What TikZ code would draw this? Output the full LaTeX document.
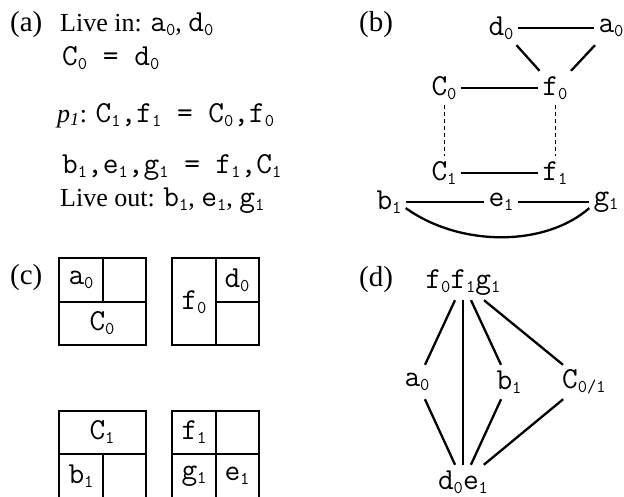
\documentclass[tikz,border=0pt]{standalone}
\usepackage{fontspec}
\setmainfont{Liberation Serif}
\usetikzlibrary{positioning}

% typewriter variables with lowered index
\newcommand{\tx}{\ttfamily\fontsize{30.5}{33}\selectfont}
\newcommand{\lo}[1]{\raisebox{-4pt}{\fontsize{18}{18}\selectfont #1}}
\newcommand{\cv}[2]{{\tx #1\lo{#2}}}

\tikzset{
  tag/.style={anchor=base west, inner sep=0pt, font=\fontsize{29}{33}\selectfont},
  codeline/.style={anchor=base west, inner sep=0pt, font=\fontsize{26}{29}\selectfont},
  var/.style={inner sep=4pt, minimum height=34pt, font=\tx},
  cellvar/.style={inner sep=0pt, font=\tx},
  edge/.style={line width=2.3pt},
  dedge/.style={line width=1pt, dash pattern=on 4pt off 3pt},
  cell/.style={line width=1.3pt},
}

\begin{document}
\begin{tikzpicture}[x=1pt, y=-1pt]
  \useasboundingbox (0,0) rectangle (624,496);

  % (a) code
  \node[tag] (taga) at (10,31) {(a)};
  \node[codeline] (livein) at (60,31) {Live in: \cv{a}{0}, \cv{d}{0}};
  \node[codeline] (copy0) at (62,65) {\tx C\lo{0} = d\lo{0}};
  \node[codeline] (phi) at (57,122) {\textit{p}\textsubscript{\textit{1}}: {\tx C\lo{1},f\lo{1} = C\lo{0},f\lo{0}}};
  \node[codeline] (par) at (62,173) {\tx b\lo{1},e\lo{1},g\lo{1} = f\lo{1},C\lo{1}};
  \node[codeline] (liveout) at (60,206) {Live out: \cv{b}{1}, \cv{e}{1}, \cv{g}{1}};

  % (b) interference graph
  \node[tag] (tagb) at (359,31) {(b)};
  \node[var] (d0) at (501,28) {d\lo{0}};
  \node[var] (a0) at (611,28) {a\lo{0}};
  \node[var] (c0) at (444,88) {C\lo{0}};
  \node[var] (f0) at (555,88) {f\lo{0}};
  \node[var] (c1) at (444,173) {C\lo{1}};
  \node[var] (f1) at (555,173) {f\lo{1}};
  \node[var] (b1) at (389,202) {b\lo{1}};
  \node[var] (e1) at (501,202) {e\lo{1}};
  \node[var] (g1) at (606,202) {g\lo{1}};

  \draw[edge] (d0) -- (a0);
  \draw[edge] (d0) -- (f0);
  \draw[edge] (a0) -- (f0);
  \draw[edge] (c0) -- (f0);
  \draw[dedge] (c0) -- (c1);
  \draw[dedge] (f0) -- (f1);
  \draw[edge] (c1) -- (f1);
  \draw[edge] (b1) -- (e1);
  \draw[edge] (e1) -- (g1);
  \draw[edge] (b1.-20) .. controls (460,247) and (545,247) .. (g1.-160);

  % (c) register cells
  \node[tag] (tagc) at (10,284) {(c)};
  \draw[cell] (59,258) rectangle (146,345) (59,302) -- (146,302) (103,258) -- (103,302);
  \draw[cell] (172,258) rectangle (259,345) (216,258) -- (216,345) (216,302) -- (259,302);
  \draw[cell] (59,411) rectangle (146,500) (59,454) -- (146,454) (103,454) -- (103,500);
  \draw[cell] (172,411) rectangle (259,500) (216,411) -- (216,500) (172,454) -- (259,454);
  \node[cellvar] (ca0) at (81,280) {a\lo{0}};
  \node[cellvar] (cc0) at (102,323) {C\lo{0}};
  \node[cellvar] (cf0) at (194,302) {f\lo{0}};
  \node[cellvar] (cd0) at (237,280) {d\lo{0}};
  \node[cellvar] (cc1) at (102,432) {C\lo{1}};
  \node[cellvar] (cb1) at (81,476) {b\lo{1}};
  \node[cellvar] (cf1) at (194,432) {f\lo{1}};
  \node[cellvar] (cg1) at (194,476) {g\lo{1}};
  \node[cellvar] (ce1) at (237,476) {e\lo{1}};

  % (d) merged graph
  \node[tag] (tagd) at (359,286) {(d)};
  \node[var] (top) at (463,283) {f\lo{0}f\lo{1}g\lo{1}};
  \node[var] (ma0) at (417,382) {a\lo{0}};
  \node[var] (mb1) at (509,382) {b\lo{1}};
  \node[var] (mc) at (584,382) {C\lo{0/1}};
  \node[var] (bot) at (463,482) {d\lo{0}e\lo{1}};

  \draw[edge] (top) -- (ma0);
  \draw[edge] (top) -- (bot);
  \draw[edge] (top) -- (mb1);
  \draw[edge] (top) -- (mc);
  \draw[edge] (ma0) -- (bot);
  \draw[edge] (mb1) -- (bot);
  \draw[edge] (mc) -- (bot);
\end{tikzpicture}
\end{document}
